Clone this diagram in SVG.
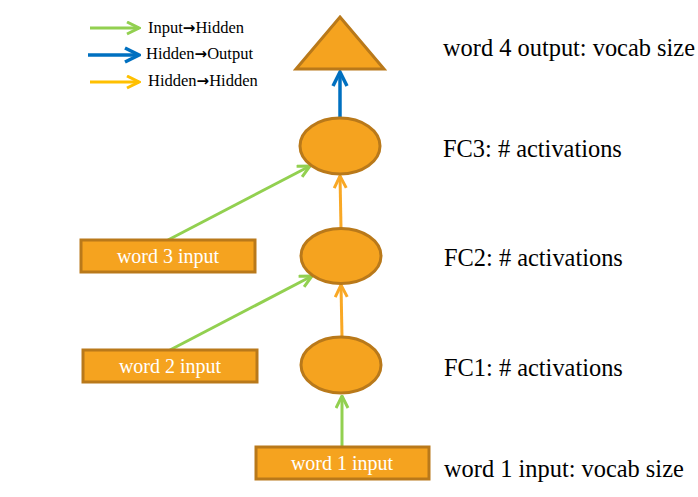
<svg xmlns="http://www.w3.org/2000/svg" width="698" height="497" viewBox="0 0 698 497">
<style>
.node{fill:#F5A31F;stroke:#B9791A;stroke-width:3}
.lbl{font-family:"Liberation Serif",serif;font-size:24.4px;fill:#000}
.in{font-family:"Liberation Serif",serif;font-size:20px;fill:#fff;text-anchor:middle}
.leg{font-family:"Liberation Serif",serif;font-size:16.5px;fill:#000}
.ar{font-family:"DejaVu Sans",sans-serif;font-weight:bold;font-size:15px}
.g{stroke:#92D050;stroke-width:3;fill:none}
.b{stroke:#0070C0;stroke-width:3.5;fill:none}
.o{stroke:#F9A825;stroke-width:3;fill:none}
.y{stroke:#FFC000;stroke-width:3;fill:none}
</style>
<defs>
<marker id="mg" viewBox="0 0 10 10" refX="9" refY="5" markerWidth="5" markerHeight="5" orient="auto" markerUnits="strokeWidth"><path d="M1,1 L9,5 L1,9" fill="none" stroke="#92D050" stroke-width="2"/></marker>
<marker id="mb" viewBox="0 0 10 10" refX="9" refY="5" markerWidth="5" markerHeight="5" orient="auto" markerUnits="strokeWidth"><path d="M1,1 L9,5 L1,9" fill="none" stroke="#0070C0" stroke-width="2"/></marker>
<marker id="mo" viewBox="0 0 10 10" refX="9" refY="5" markerWidth="5" markerHeight="5" orient="auto" markerUnits="strokeWidth"><path d="M1,1 L9,5 L1,9" fill="none" stroke="#F9A825" stroke-width="2"/></marker>
<marker id="my" viewBox="0 0 10 10" refX="9" refY="5" markerWidth="5" markerHeight="5" orient="auto" markerUnits="strokeWidth"><path d="M1,1 L9,5 L1,9" fill="none" stroke="#FFC000" stroke-width="2"/></marker>
</defs>
<g id="legend">
<line class="g" x1="90" y1="28" x2="139" y2="28" marker-end="url(#mg)"/>
<line class="b" x1="88" y1="55" x2="139" y2="55" marker-end="url(#mb)"/>
<line class="y" x1="90" y1="82" x2="139" y2="82" marker-end="url(#my)"/>
<text class="leg" x="148" y="33">Input<tspan class="ar">→</tspan>Hidden</text>
<text class="leg" x="146" y="59">Hidden<tspan class="ar">→</tspan>Output</text>
<text class="leg" x="148" y="86">Hidden<tspan class="ar">→</tspan>Hidden</text>
</g>
<g id="connectors">
<line class="b" x1="340" y1="117" x2="340" y2="72" marker-end="url(#mb)"/>
<line class="o" x1="341" y1="228" x2="340" y2="176" marker-end="url(#mo)"/>
<line class="o" x1="342" y1="337" x2="341" y2="285" marker-end="url(#mo)"/>
<line class="g" x1="342" y1="447" x2="342" y2="396" marker-end="url(#mg)"/>
<line class="g" x1="168" y1="240" x2="310" y2="166" marker-end="url(#mg)"/>
<line class="g" x1="170" y1="350" x2="312" y2="276" marker-end="url(#mg)"/>
</g>
<g id="output">
<polygon class="node" points="340,17 384,69 296,69"/>
</g>
<g id="fc3"><ellipse class="node" cx="340" cy="146" rx="40" ry="28"/></g>
<g id="fc2"><ellipse class="node" cx="341" cy="256" rx="40" ry="27.5"/></g>
<g id="fc1"><ellipse class="node" cx="341" cy="365" rx="40" ry="28"/></g>
<g id="word3"><rect class="node" x="81" y="240" width="174" height="32"/><text class="in" x="168" y="263">word 3 input</text></g>
<g id="word2"><rect class="node" x="83" y="350" width="174" height="32"/><text class="in" x="170" y="373">word 2 input</text></g>
<g id="word1"><rect class="node" x="256" y="447" width="173" height="32"/><text class="in" x="342" y="470">word 1 input</text></g>
<g id="labels">
<text class="lbl" x="443" y="56">word 4 output: vocab size</text>
<text class="lbl" x="443" y="157">FC3: # activations</text>
<text class="lbl" x="444" y="266">FC2: # activations</text>
<text class="lbl" x="444" y="376">FC1: # activations</text>
<text class="lbl" x="444" y="477">word 1 input: vocab size</text>
</g>
</svg>
